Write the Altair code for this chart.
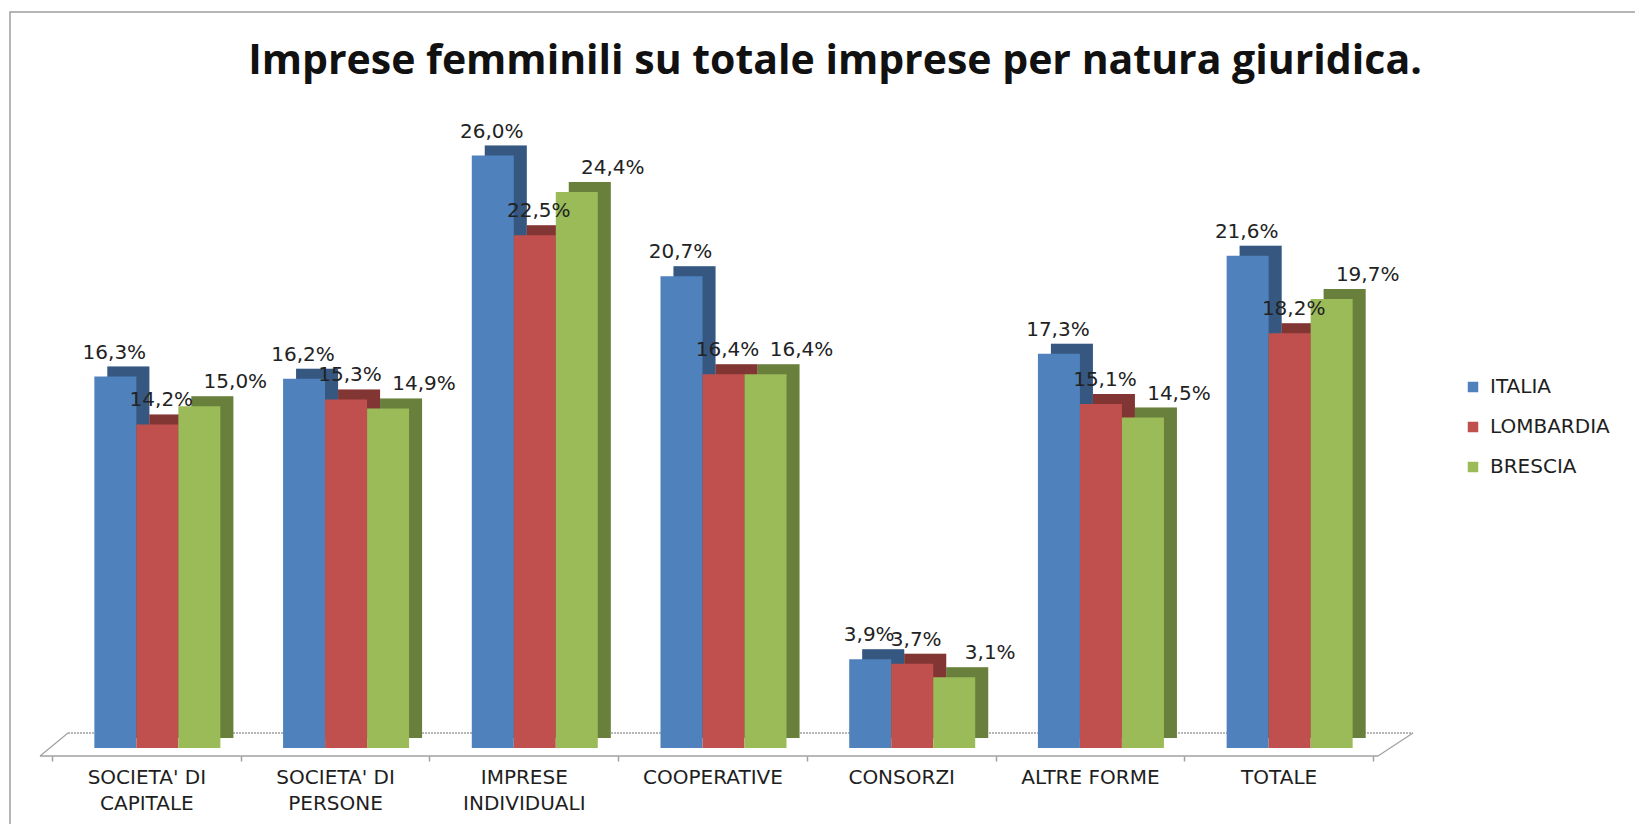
import altair as alt
import pandas as pd

categories = ["SOCIETA' DI|CAPITALE", "SOCIETA' DI|PERSONE", "IMPRESE|INDIVIDUALI",
              "COOPERATIVE", "CONSORZI", "ALTRE FORME", "TOTALE"]
series = ["ITALIA", "LOMBARDIA", "BRESCIA"]
italia = [16.3, 16.2, 26.0, 20.7, 3.9, 17.3, 21.6]
lombardia = [14.2, 15.3, 22.5, 16.4, 3.7, 15.1, 18.2]
brescia = [15.0, 14.9, 24.4, 16.4, 3.1, 14.5, 19.7]
title_text = "Imprese femminili su totale imprese per natura giuridica."

rows = []
for i, c in enumerate(categories):
    for s, vals in zip(series, [italia, lombardia, brescia]):
        rows.append({"categoria": c, "serie": s, "valore": vals[i]})
df = pd.DataFrame(rows)

W, H = 1321, 638
BAR_W = 42
DEPTH_X, DEPTH_Y = 13, 10
front_colors = ["#4F81BD", "#C0504D", "#9BBB59"]
bar_shift = {"ITALIA": -31, "LOMBARDIA": 11, "BRESCIA": 53}
label_shift = {"ITALIA": -1, "LOMBARDIA": 4, "BRESCIA": 36}
FONT = "DejaVu Sans"
GRAY = "#A0A0A0"

x = alt.X("categoria:N", sort=categories,
          scale=alt.Scale(paddingInner=0, paddingOuter=0),
          axis=alt.Axis(title=None, labelExpr="split(datum.label, '|')", labelAngle=0,
                        tickBand="extent", tickSize=5, tickColor=GRAY, tickWidth=1.5,
                        domain=False, offset=8, labelFont=FONT,
                        labelFontSize=20, labelColor="#1E1E1E", labelPadding=16,
                        labelLineHeight=26, labelBaseline="middle"))
y = alt.Y("valore:Q", scale=alt.Scale(domain=[0, 28], nice=False, zero=True), axis=None)
col = alt.Color("serie:N", sort=series,
                scale=alt.Scale(domain=series, range=front_colors),
                legend=alt.Legend(title=None, orient="none", legendX=1411, legendY=267,
                                  symbolType="square", symbolSize=110,
                                  symbolStrokeWidth=0, labelFont=FONT,
                                  labelFontSize=20, labelColor="#1E1E1E",
                                  rowPadding=20, labelOffset=7, padding=0))

base = alt.Chart(df)

shadows, darks, fronts, texts = [], [], [], []
for s in series:
    sub = base.transform_filter(alt.datum.serie == s)
    off = bar_shift[s]
    shadows.append(sub.mark_bar(width=BAR_W, xOffset=off + DEPTH_X, yOffset=-DEPTH_Y)
                   .encode(x=x, y=y, color=col))
    darks.append(sub.mark_bar(width=BAR_W, xOffset=off + DEPTH_X, yOffset=-DEPTH_Y,
                              color="#000000", opacity=0.32)
                 .encode(x=x, y=y))
    fronts.append(sub.mark_bar(width=BAR_W, xOffset=off).encode(x=x, y=y, color=col))
    texts.append(sub.transform_calculate(
        etichetta="replace(format(datum.valore, '.1f'), '.', ',') + '%'"
    ).mark_text(xOffset=off + label_shift[s], dy=-24, baseline="middle", font=FONT,
                fontSize=20, color="#222222").encode(x=x, y=y, text="etichetta:N"))

one = alt.Chart(pd.DataFrame({"k": [0]}))
frame = one.mark_rect(fill="transparent", stroke="#9E9E9E", strokeWidth=1.5).encode(
    x=alt.value(-42), x2=alt.value(1700), y=alt.value(-98), y2=alt.value(900))
floor_front = one.mark_rule(color=GRAY, strokeWidth=1.5).encode(
    x=alt.value(-12), x2=alt.value(1326), y=alt.value(H + 8))
floor_back = one.mark_rule(color=GRAY, strokeDash=[2, 1], strokeWidth=1.5).encode(
    x=alt.value(16), x2=alt.value(1361), y=alt.value(H - 15))
floor_left = one.mark_rule(color=GRAY, strokeWidth=1.2).encode(
    x=alt.value(-12), y=alt.value(H + 8), x2=alt.value(16), y2=alt.value(H - 15))
floor_right = one.mark_rule(color=GRAY, strokeWidth=1.2).encode(
    x=alt.value(1326), y=alt.value(H + 8), x2=alt.value(1361), y2=alt.value(H - 15))
title = alt.Chart(pd.DataFrame({"t": [title_text]})).mark_text(
    font="Open Sans", fontSize=41, fontWeight="bold", color="#111111",
    align="center", baseline="middle").encode(
    x=alt.value(783), y=alt.value(-48), text="t:N")

chart = alt.layer(frame, floor_back, floor_left, floor_right, floor_front,
                  *shadows, *darks, *fronts, *texts, title).properties(
    width=W, height=H,
    padding={"left": 44, "top": 102, "right": 262, "bottom": 76},
    autosize=alt.AutoSizeParams(type="none"),
).configure_view(stroke=None)

chart.save("out.html", embed_options={"renderer": "svg", "actions": False})
